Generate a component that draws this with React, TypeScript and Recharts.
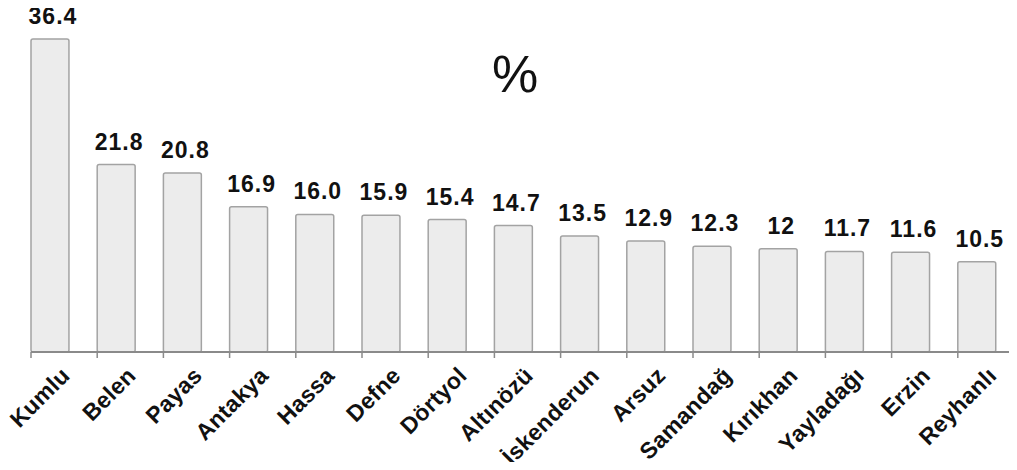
import { BarChart, Bar, XAxis, YAxis, LabelList } from 'recharts';

const districts = [
  'Kumlu', 'Belen', 'Payas', 'Antakya', 'Hassa', 'Defne', 'Dörtyol', 'Altınözü',
  'İskenderun', 'Arsuz', 'Samandağ', 'Kırıkhan', 'Yayladağı', 'Erzin', 'Reyhanlı',
];
const percents = [36.4, 21.8, 20.8, 16.9, 16.0, 15.9, 15.4, 14.7, 13.5, 12.9, 12.3, 12, 11.7, 11.6, 10.5];
const percentLabels = ['36.4', '21.8', '20.8', '16.9', '16.0', '15.9', '15.4', '14.7', '13.5', '12.9', '12.3', '12', '11.7', '11.6', '10.5'];

const data = districts.map((name, i) => ({ name, value: percents[i], label: percentLabels[i] }));

const BAR_RATIO = 0.575;
const FONT = '"Liberation Sans", Arial, sans-serif';

// bars sit at the left of their slot, like the original
const LeftBar = (props: any) => {
  const { x, y, width, height } = props;
  const w = width * BAR_RATIO;
  return (
    <rect x={x} y={y} width={w} height={height} rx={2} ry={2}
      fill="#ececec" stroke="#a3a3a3" strokeWidth={1.5} />
  );
};

const ValueLabel = (props: any) => {
  const { x, y, width, index } = props;
  const w = width * BAR_RATIO;
  return (
    <text x={x + w / 2 + 3} y={y - 15} textAnchor="middle" fontFamily={FONT}
      fontWeight="bold" fontSize={23} letterSpacing={1} fill="#111">
      {percentLabels[index]}
    </text>
  );
};

const CategoryTick = (props: any) => {
  const { x, y, payload, band } = props;
  const left = x - band / 2;
  const ax = left + band * BAR_RATIO + 2;
  const ay = y + 25;
  return (
    <g>
      <line x1={left} y1={y} x2={left} y2={y + 6} stroke="#8a8a8a" strokeWidth={1.5} />
      <text x={ax} y={ay} textAnchor="end" transform={`rotate(-45 ${ax} ${ay})`}
        fontFamily={FONT} fontWeight="bold" fontSize={23} letterSpacing={0.3} fill="#111">
        {payload.value}
      </text>
    </g>
  );
};

export default function App() {
  const chartWidth = 1030;
  const left = 31;
  const right = 6;
  const band = (chartWidth - left - right) / districts.length;
  return (
    <div style={{ margin: -8, width: 1017, height: 470, overflow: 'hidden', position: 'relative', background: '#fff' }}>
      <div style={{ position: 'absolute', left: 0, top: 44, width: 1017, textAlign: 'center', paddingLeft: 13,
        boxSizing: 'border-box', fontFamily: FONT, fontSize: 52, color: '#111', lineHeight: '60px' }}>
        %
      </div>
      <BarChart width={chartWidth} height={470} data={data}
        margin={{ top: 8, right, left, bottom: 0 }} barCategoryGap={0}>
        <YAxis hide domain={[0, 40]} />
        <XAxis dataKey="name" interval={0} height={118} tickSize={0} tickMargin={0}
          axisLine={{ stroke: '#8a8a8a', strokeWidth: 2 }}
          tick={(p: any) => <CategoryTick {...p} band={band} />} />
        <Bar dataKey="value" isAnimationActive={false} shape={LeftBar}>
          <LabelList dataKey="label" content={ValueLabel} />
        </Bar>
      </BarChart>
    </div>
  );
}
